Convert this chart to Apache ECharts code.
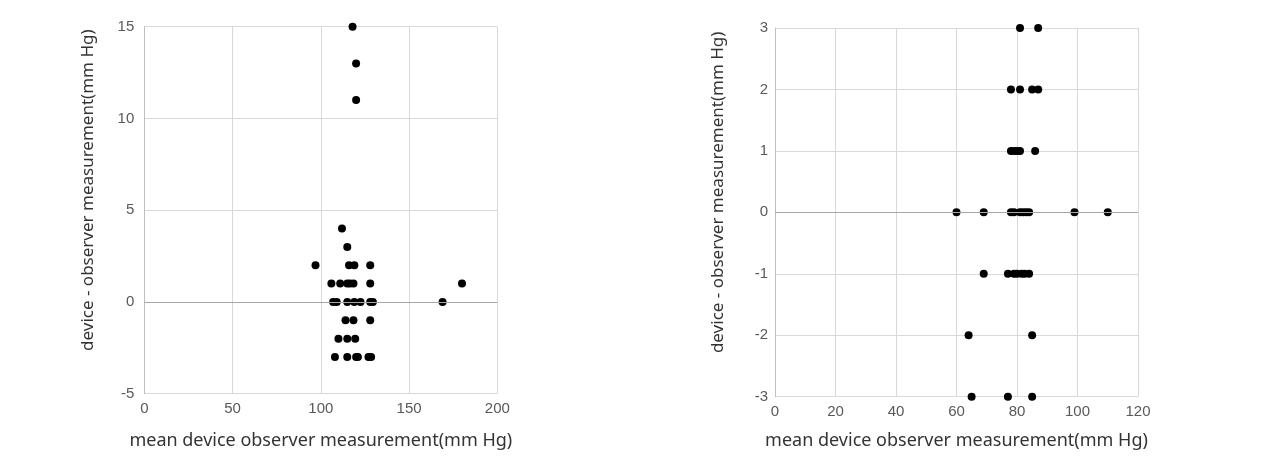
<!DOCTYPE html>
<html>
<head>
<meta charset="utf-8">
<script src="https://cdn.jsdelivr.net/npm/echarts@6/dist/echarts.min.js"></script>
<style>
html,body{margin:0;padding:0;background:#fff;}
#c{width:1263px;height:462px;}
</style>
</head>
<body>
<div id="c"></div>
<script>
// Left chart data
const leftX = [118, 120, 120, 112, 115, 97, 116, 119, 128, 106, 111, 115, 116.5, 118.5, 128, 180,
  107, 109, 115, 119, 122.5, 128, 129.5, 169, 114, 118.5, 128, 110, 115, 119.5, 108, 115, 120, 121, 127, 128.5];
const leftY = [15, 13, 11, 4, 3, 2, 2, 2, 2, 1, 1, 1, 1, 1, 1, 1,
  0, 0, 0, 0, 0, 0, 0, 0, -1, -1, -1, -2, -2, -2, -3, -3, -3, -3, -3, -3];
// Right chart data
const rightX = [81, 87, 78, 81, 85, 87, 78, 79, 80, 81, 86,
  60, 69, 78, 79, 81, 82, 83, 84, 99, 110, 69, 77, 79, 80, 81.5, 82.5, 84, 64, 85, 65, 77, 85];
const rightY = [3, 3, 2, 2, 2, 2, 1, 1, 1, 1, 1,
  0, 0, 0, 0, 0, 0, 0, 0, 0, 0, -1, -1, -1, -1, -1, -1, -1, -2, -2, -3, -3, -3];
const xTitle = 'mean device observer measurement(mm Hg)';
const yTitle = 'device - observer measurement(mm Hg)';

const pair = (xs, ys) => xs.map((x, i) => [x, ys[i]]);

const tickLabel = {color: '#595959', fontSize: 15, fontFamily: 'Liberation Sans'};
const split = {show: true, lineStyle: {color: '#d9d9d9', width: 1}};

function xAx(idx, max, interval, gap) {
  return {gridIndex: idx, type: 'value', min: 0, max: max, interval: interval,
    axisLine: {show: false}, axisTick: {show: false},
    axisLabel: Object.assign({margin: 8}, tickLabel),
    splitLine: split, name: xTitle, nameLocation: 'middle', nameGap: gap,
    nameTextStyle: {color: '#333', fontSize: 18, fontFamily: 'Noto Sans'}};
}
function yAx(idx, min, max, interval, gap, margin) {
  return {gridIndex: idx, type: 'value', min: min, max: max, interval: interval,
    axisLine: {show: true, onZero: false, lineStyle: {color: '#bfbfbf'}}, axisTick: {show: false},
    axisLabel: Object.assign({margin: margin}, tickLabel),
    splitLine: split, name: yTitle, nameLocation: 'middle', nameGap: gap,
    nameTextStyle: {color: '#333', fontSize: 17, fontFamily: 'Noto Sans', padding: [0, 0, 0, 40]}};
}
function zeroLine() {
  return {silent: true, symbol: 'none', label: {show: false},
    lineStyle: {color: '#a6a6a6', type: 'solid', width: 1}, data: [{yAxis: 0}]};
}

const chart = echarts.init(document.getElementById('c'), null, {renderer: 'canvas'});
chart.setOption({
  animation: false,
  grid: [
    {left: 144.3, right: 765.7, top: 26.7, bottom: 68.3},
    {left: 775, right: 125, top: 28, bottom: 65.3}
  ],
  xAxis: [xAx(0, 200, 50, 38), xAx(1, 120, 20, 35)],
  yAxis: [yAx(0, -5, 15, 5, 48, 10), yAx(1, -3, 3, 1, 48, 7)],
  series: [
    {type: 'scatter', xAxisIndex: 0, yAxisIndex: 0, data: pair(leftX, leftY), symbolSize: 8,
      itemStyle: {color: '#000', opacity: 1}, markLine: zeroLine(), z: 3},
    {type: 'scatter', xAxisIndex: 1, yAxisIndex: 1, data: pair(rightX, rightY), symbolSize: 8,
      itemStyle: {color: '#000', opacity: 1}, markLine: zeroLine(), z: 3}
  ]
});
</script>
</body>
</html>
